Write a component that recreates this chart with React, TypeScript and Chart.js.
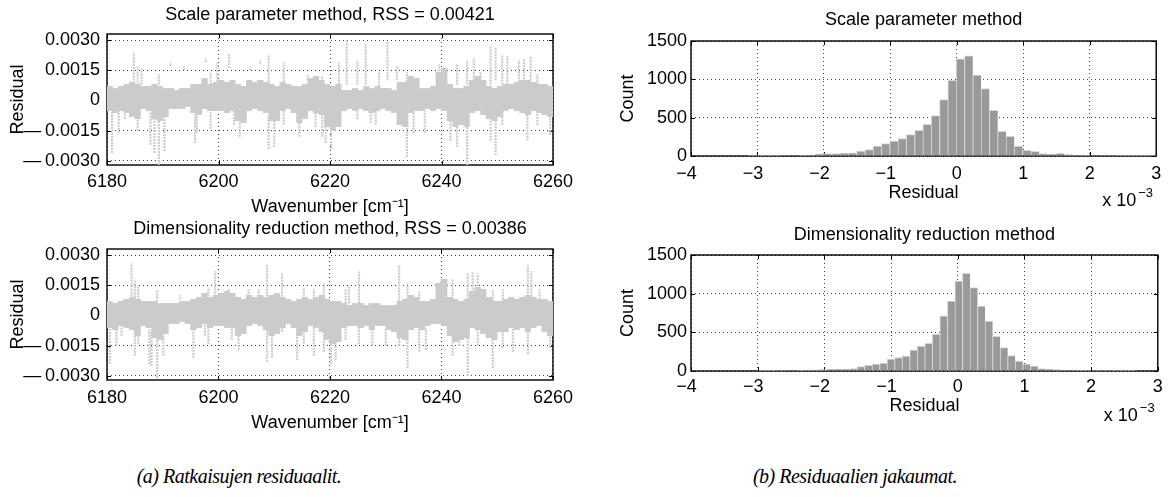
import React, { useEffect, useRef } from 'react';
import { Chart, registerables } from 'chart.js';
Chart.register(...registerables);

const FONT = "'Liberation Sans', Arial, Helvetica, sans-serif";

// ---------- Left panels: residuals vs wavenumber ----------
const RES_UNIT = 1e-4; // core/spike values below are given in units of 1e-4
const WN_BIN_CENTERS = [
  6180.5, 6181.5, 6182.5, 6183.5, 6184.5, 6185.5, 6186.5, 6187.5, 6188.5, 6189.5,
  6190.5, 6191.5, 6192.5, 6193.5, 6194.5, 6195.5, 6196.5, 6197.5, 6198.5, 6199.5,
  6200.5, 6201.5, 6202.5, 6203.5, 6204.5, 6205.5, 6206.5, 6207.5, 6208.5, 6209.5,
  6210.5, 6211.5, 6212.5, 6213.5, 6214.5, 6215.5, 6216.5, 6217.5, 6218.5, 6219.5,
  6220.5, 6221.5, 6222.5, 6223.5, 6224.5, 6225.5, 6226.5, 6227.5, 6228.5, 6229.5,
  6230.5, 6231.5, 6232.5, 6233.5, 6234.5, 6235.5, 6236.5, 6237.5, 6238.5, 6239.5,
  6240.5, 6241.5, 6242.5, 6243.5, 6244.5, 6245.5, 6246.5, 6247.5, 6248.5, 6249.5,
  6250.5, 6251.5, 6252.5, 6253.5, 6254.5, 6255.5, 6256.5, 6257.5, 6258.5, 6259.5,
];

const SCALE_CORE_HI = [
  7, 6, 7, 8, 9, 8, 7, 7, 8, 7,
  6, 6, 5, 6, 6, 8, 8, 11, 8, 9,
  10, 9, 10, 8, 7, 10, 9, 10, 9, 8,
  7, 9, 8, 7, 7, 8, 11, 12, 10, 8,
  7, 8, 5, 5, 6, 5, 7, 6, 7, 6,
  6, 5, 9, 9, 12, 11, 6, 6, 7, 14,
  16, 8, 6, 6, 7, 10, 12, 10, 7, 6,
  7, 8, 8, 9, 10, 10, 9, 8, 8, 7,
];
const SCALE_CORE_LO = [
  -5, -6, -5, -6, -8, -9, -4, -5, -9, -10,
  -8, -4, -4, -4, -3, -6, -7, -4, -5, -5,
  -5, -6, -5, -10, -11, -5, -4, -5, -6, -10,
  -10, -5, -4, -6, -11, -9, -5, -6, -7, -13,
  -15, -13, -5, -4, -5, -4, -5, -6, -5, -4,
  -5, -6, -12, -13, -6, -5, -5, -4, -5, -4,
  -5, -10, -13, -12, -13, -6, -5, -7, -9, -10,
  -8, -5, -4, -5, -6, -7, -5, -6, -7, -8,
];
const SCALE_SPIKE_WN = [
  6180.9, 6182.1, 6183.2, 6184.8, 6185.5, 6185.5, 6186.2, 6187.8, 6188.5, 6189.3,
  6189.3, 6190.3, 6191.4, 6193.8, 6195.8, 6196.1, 6197.7, 6198.6, 6198.6, 6199.8,
  6201.9, 6202.8, 6203.8, 6205.7, 6207.5, 6209.0, 6209.0, 6210.0, 6211.7, 6211.7,
  6214.5, 6216.0, 6217.4, 6218.6, 6218.6, 6219.2, 6220.2, 6221.6, 6223.0, 6224.9,
  6224.9, 6226.4, 6227.3, 6228.2, 6228.8, 6230.3, 6232.0, 6233.8, 6233.8, 6235.0,
  6237.0, 6239.6, 6241.6, 6242.8, 6242.8, 6244.6, 6244.6, 6245.8, 6247.0, 6248.8,
  6248.8, 6249.7, 6249.7, 6250.9, 6250.9, 6251.8, 6253.9, 6254.8, 6255.4, 6256.0,
  6257.2, 6257.2, 6259.5,
];
const SCALE_SPIKE_LO = [
  -26, -16, -9, 4, -15, 6, 8, -22, -26, -32,
  8, -25, 17, 15, -21, -16, 19, -14, 8, 8,
  16, -12, -18, 15, 18, 8, -24, -23, 8, -12,
  -18, 10, -13, -18, 8, -21, -24, 8, 8, 8,
  -9, 8, -11, -12, 7, 10, 10, -28, 9, -16,
  -16, 10, -20, -23, 8, -32, 8, 10, 10, 8,
  -20, 10, -27, 8, -12, 8, 9, 9, -20, 10,
  -12, 8, -17,
];
const SCALE_SPIKE_HI = [
  -4, -4, -3, 24, -5, 17, 16, -6, -8, -8,
  13, -6, 19, 17, -5, -5, 21, -5, 14, 19,
  23, -5, -6, 17, 20, 23, -8, -6, 19, -5,
  -7, 13, -5, -6, 12, -8, -10, 19, 30, 20,
  -4, 28, -5, -5, 14, 29, 17, -8, 14, -6,
  -5, 18, -8, -8, 18, -10, 20, 21, 14, 27,
  -6, 26, -8, 23, -5, 22, 20, 21, -7, 22,
  -6, 13, -6,
];

const DIM_CORE_HI = [
  7, 6, 7, 8, 9, 8, 7, 7, 7, 6,
  6, 6, 6, 7, 7, 8, 9, 11, 9, 10,
  11, 12, 11, 9, 8, 10, 9, 10, 9, 10,
  11, 9, 8, 7, 8, 9, 8, 9, 10, 8,
  7, 7, 6, 5, 6, 6, 5, 6, 6, 5,
  5, 5, 7, 8, 10, 9, 7, 7, 8, 16,
  18, 9, 8, 7, 8, 12, 14, 13, 9, 7,
  7, 8, 9, 8, 9, 10, 9, 8, 8, 7,
];
const DIM_CORE_LO = [
  -6, -7, -5, -6, -7, -10, -5, -6, -11, -12,
  -9, -4, -4, -3, -4, -7, -6, -4, -6, -5,
  -5, -6, -6, -10, -9, -5, -4, -5, -7, -10,
  -9, -6, -4, -6, -10, -8, -5, -6, -8, -12,
  -14, -13, -6, -5, -5, -6, -5, -7, -5, -5,
  -7, -8, -11, -12, -7, -6, -7, -5, -4, -4,
  -5, -10, -13, -12, -11, -6, -7, -9, -11, -12,
  -8, -8, -6, -7, -6, -8, -6, -5, -8, -10,
];
const DIM_SPIKE_WN = [
  6180.5, 6181.7, 6182.6, 6184.4, 6185.0, 6185.0, 6185.6, 6185.6, 6187.6, 6188.0,
  6189.0, 6189.0, 6190.1, 6193.1, 6195.5, 6197.6, 6198.2, 6198.2, 6199.4, 6201.8,
  6202.4, 6203.6, 6205.4, 6207.2, 6208.7, 6208.7, 6209.6, 6211.4, 6211.4, 6214.1,
  6215.3, 6215.3, 6217.1, 6217.1, 6218.9, 6218.9, 6220.2, 6221.0, 6222.8, 6222.8,
  6223.4, 6225.2, 6225.2, 6227.6, 6230.0, 6232.4, 6232.4, 6233.9, 6233.9, 6236.0,
  6236.0, 6237.2, 6239.9, 6242.0, 6242.0, 6243.2, 6244.7, 6244.7, 6245.6, 6246.5,
  6246.5, 6249.2, 6249.2, 6251.0, 6251.0, 6252.8, 6255.5, 6255.5, 6256.1, 6257.6,
  6259.5,
];
const DIM_SPIKE_LO = [
  -24, -15, -10, 8, 6, -20, 6, -14, -24, -25,
  -31, 7, -20, 8, -21, -10, -14, 8, 8, 9,
  -12, -17, 8, 8, 8, -23, -21, 8, -8, -22,
  8, -14, 8, -20, 8, -18, -24, -22, 6, -12,
  6, 6, -14, -15, -15, 7, -15, -26, 8, -18,
  8, -17, 10, -20, 8, -15, -30, 8, 10, 10,
  -15, -26, 7, -16, 8, -18, 8, -19, 8, 8,
  -16,
];
const DIM_SPIKE_HI = [
  -6, -5, -4, 26, 18, -6, 15, -5, -7, -8,
  -8, 13, -6, 10, -5, -4, -5, 14, 22, 13,
  -5, -6, 13, 13, 25, -7, -7, 21, -4, -7,
  14, -5, 13, -6, 16, -6, -8, -8, 13, -5,
  15, 22, -5, -6, -6, 25, -6, -8, 16, -6,
  12, -6, 18, -8, 18, -6, -8, 21, 22, 21,
  -6, -8, 13, -6, 13, -6, 25, -6, 22, 13,
  -6,
];

const WN_TICKS = [6180, 6200, 6220, 6240, 6260];
const WN_LABELS = ['6180', '6200', '6220', '6240', '6260'];
const RES_TICKS = [-0.003, -0.0015, 0, 0.0015, 0.003];
const RES_LABELS = ['\u2014\u20090.0030', '\u2014\u20090.0015', '0', '0.0015', '0.0030'];

// ---------- Right panels: histograms (residual in units of 1e-3) ----------
const HIST_SCALE_CENTERS = [
  -3.0725, -2.9475, -2.8225, -2.6975, -2.5725, -2.4475, -2.3225, -2.1975, -2.0725, -1.9475,
  -1.8225, -1.6975, -1.5725, -1.4475, -1.3225, -1.1975, -1.0725, -0.9475, -0.8225, -0.6975,
  -0.5725, -0.4475, -0.3225, -0.1975, -0.0725, 0.0525, 0.1775, 0.3025, 0.4275, 0.5525,
  0.6775, 0.8025, 0.9275, 1.0525, 1.1775, 1.3025, 1.4275, 1.5525, 1.6775, 1.8025,
  1.9275, 2.0525, 2.1775, 2.3025, 2.4275, 2.5525, 2.6775, 2.8025, 2.9275,
];
const HIST_SCALE_COUNTS = [
  2, 3, 3, 4, 5, 6, 8, 12, 22, 30,
  30, 38, 40, 65, 83, 130, 161, 196, 226, 278,
  335, 413, 526, 735, 987, 1266, 1305, 1057, 879, 596,
  322, 257, 130, 74, 61, 30, 26, 35, 17, 12,
  9, 7, 5, 5, 4, 3, 4, 3, 2,
];
const HIST_DIM_CENTERS = [
  -2.9235, -2.8105, -2.6975, -2.5845, -2.4715, -2.3585, -2.2455, -2.1325, -2.0195, -1.9065,
  -1.7935, -1.6805, -1.5675, -1.4545, -1.3415, -1.2285, -1.1155, -1.0025, -0.8895, -0.7765,
  -0.6635, -0.5505, -0.4375, -0.3245, -0.2115, -0.0985, 0.0145, 0.1275, 0.2405, 0.3535,
  0.4665, 0.5795, 0.6925, 0.8055, 0.9185, 1.0315, 1.1445, 1.2575, 1.3705, 1.4835,
  1.5965, 1.7095, 1.8225, 1.9355, 2.0485, 2.1615, 2.2745, 2.3875, 2.5005, 2.6135,
];
const HIST_DIM_COUNTS = [
  2, 3, 4, 4, 5, 8, 9, 13, 17, 26,
  26, 26, 30, 56, 73, 90, 103, 155, 172, 194,
  272, 323, 358, 474, 715, 905, 1164, 1263, 1078, 840,
  647, 448, 302, 198, 129, 90, 65, 30, 22, 17,
  13, 13, 9, 9, 5, 4, 4, 3, 2, 2,
];
const HIST_X_TICKS = [-4, -3, -2, -1, 0, 1, 2, 3];
const HIST_X_LABELS = ['\u22124\u2002', '\u22123\u2002', '\u22122\u2002', '\u22121\u2002', '0', '1', '2', '3'];
const HIST_Y_TICKS = [0, 500, 1000, 1500];
const HIST_Y_LABELS = ['0', '500', '1000', '1500'];

// ---------- styles ----------
const DOT_GREY = '#cbcbcb';
const BAR_GREY = '#999999';
const BAR_EDGE = '#d6d6d6';
const GRID_COLOR = 'rgba(0,0,0,0.75)';

const boxPlugin = {
  id: 'matlabBox',
  beforeDatasetsDraw(chart: any) {
    const { ctx, chartArea: a, scales } = chart;
    ctx.save();
    ctx.strokeStyle = '#000';
    ctx.lineWidth = 1.4;
    ctx.strokeRect(a.left, a.top, a.right - a.left, a.bottom - a.top);
    ctx.lineWidth = 1;
    const tl = 4;
    ctx.beginPath();
    scales.x.ticks.forEach((t: any) => {
      const px = Math.round(scales.x.getPixelForValue(t.value)) + 0.5;
      ctx.moveTo(px, a.bottom); ctx.lineTo(px, a.bottom - tl);
      ctx.moveTo(px, a.top); ctx.lineTo(px, a.top + tl);
    });
    scales.y.ticks.forEach((t: any) => {
      const py = Math.round(scales.y.getPixelForValue(t.value)) + 0.5;
      ctx.moveTo(a.left, py); ctx.lineTo(a.left + tl, py);
      ctx.moveTo(a.right, py); ctx.lineTo(a.right - tl, py);
    });
    ctx.stroke();
    ctx.restore();
  },
  afterDraw(chart: any, _args: any, opts: any) {
    if (!opts || !opts.exponent) return;
    const { ctx, chartArea: a } = chart;
    ctx.save();
    ctx.fillStyle = '#000';
    ctx.textBaseline = 'middle';
    ctx.font = `18px ${FONT}`;
    ctx.textAlign = 'right';
    const xr = a.right - 20;
    ctx.fillText('x 10', xr, a.bottom + 45);
    ctx.font = `13px ${FONT}`;
    ctx.textAlign = 'left';
    ctx.fillText(opts.exponent, xr + 2, a.bottom + 37);
    ctx.restore();
  },
};

function yScale(o: any) {
  return {
    type: 'linear',
    position: 'left',
    min: o.min,
    max: o.max,
    afterFit: (s: any) => { s.width = o.width; },
    afterBuildTicks: (s: any) => { s.ticks = o.ticks.map((v: number) => ({ value: v })); },
    ticks: {
      callback: (_v: any, i: number) => o.labels[i],
      padding: o.tickPad,
      autoSkip: false,
      color: '#000',
      font: { size: 18, family: FONT },
    },
    grid: { color: GRID_COLOR, lineWidth: 1, drawTicks: false, borderDash: [1, 3] },
    border: { display: false, dash: [1, 3] },
    title: {
      display: true,
      text: o.title,
      color: '#000',
      font: { size: 18, family: FONT },
      padding: { top: o.titlePad, bottom: 0 },
    },
  };
}

function xScale(o: any) {
  return {
    type: 'linear',
    position: 'bottom',
    min: o.min,
    max: o.max,
    offset: false,
    afterFit: (s: any) => { s.height = o.height; },
    afterBuildTicks: (s: any) => { s.ticks = o.ticks.map((v: number) => ({ value: v })); },
    ticks: {
      callback: (_v: any, i: number) => o.labels[i],
      padding: o.tickPad,
      autoSkip: false,
      maxRotation: 0,
      color: '#000',
      font: { size: 18, family: FONT },
    },
    grid: { color: GRID_COLOR, lineWidth: 1, drawTicks: false, offset: false, borderDash: [1, 3] },
    border: { display: false, dash: [1, 3] },
    title: {
      display: true,
      text: o.title,
      color: '#000',
      font: { size: 18, family: FONT },
      padding: { top: 0, bottom: o.titlePad },
    },
  };
}

function titleOpts(text: string, top: number, bottom: number) {
  return {
    display: true,
    text,
    color: '#000',
    fullSize: false,
    font: { size: 18, weight: 'normal', family: FONT, lineHeight: 1.2 },
    padding: { top, bottom },
  };
}

function residualConfig(p: any) {
  const core = WN_BIN_CENTERS.map((x, i) => ({ x, y: [p.lo[i] * RES_UNIT, p.hi[i] * RES_UNIT] }));
  const spikes: any[] = [];
  p.sWn.forEach((x: number, i: number) => {
    spikes.push({ x, y: p.sLo[i] * RES_UNIT }, { x, y: p.sHi[i] * RES_UNIT }, { x, y: null });
  });
  return {
    type: 'bar',
    data: {
      datasets: [
        {
          type: 'bar',
          data: core,
          backgroundColor: DOT_GREY,
          borderWidth: 0,
          barPercentage: 1,
          categoryPercentage: 1,
        },
        {
          type: 'line',
          data: spikes,
          borderColor: DOT_GREY,
          borderWidth: 2.2,
          borderDash: [2, 1],
          pointRadius: 0,
          spanGaps: false,
          tension: 0,
          fill: false,
        },
      ],
    },
    options: {
      responsive: false,
      animation: false,
      events: [],
      layout: { padding: { left: 0, right: p.padRight, top: 0, bottom: 0 } },
      plugins: {
        legend: { display: false },
        tooltip: { enabled: false },
        title: titleOpts(p.title, p.tTop, p.tBottom),
        matlabBox: {},
      },
      scales: {
        x: xScale({ min: 6180, max: 6260, ticks: WN_TICKS, labels: WN_LABELS, height: p.xHeight, tickPad: p.xTickPad, title: 'Wavenumber [cm\u207B\u00B9]', titlePad: p.xTitlePad }),
        y: yScale({ min: -0.0032, max: 0.0033, ticks: RES_TICKS, labels: RES_LABELS, width: 107, tickPad: 7, title: 'Residual', titlePad: 7.5 }),
      },
    },
    plugins: [boxPlugin],
  };
}

function histConfig(p: any) {
  return {
    type: 'bar',
    data: {
      datasets: [
        {
          type: 'bar',
          data: p.centers.map((x: number, i: number) => ({ x, y: p.counts[i] })),
          backgroundColor: BAR_GREY,
          borderColor: BAR_EDGE,
          borderWidth: { left: 1, right: 0, top: 1, bottom: 0 },
          borderSkipped: false,
          barPercentage: 1,
          categoryPercentage: 1,
        },
      ],
    },
    options: {
      responsive: false,
      animation: false,
      events: [],
      layout: { padding: { left: 0, right: 10, top: 0, bottom: 0 } },
      plugins: {
        legend: { display: false },
        tooltip: { enabled: false },
        title: titleOpts(p.title, p.tTop, p.tBottom),
        matlabBox: { exponent: '\u22123' },
      },
      scales: {
        x: xScale({ min: -4, max: 3, ticks: HIST_X_TICKS, labels: HIST_X_LABELS, height: p.xHeight, tickPad: p.xTickPad, title: 'Residual', titlePad: p.xTitlePad }),
        y: yScale({ min: 0, max: 1500, ticks: HIST_Y_TICKS, labels: HIST_Y_LABELS, width: 91, tickPad: 4, title: 'Count', titlePad: 17 }),
      },
    },
    plugins: [boxPlugin],
  };
}

const PANELS = [
  {
    left: 0, top: 0, width: 580, height: 225,
    make: () => residualConfig({
      hi: SCALE_CORE_HI, lo: SCALE_CORE_LO, sWn: SCALE_SPIKE_WN, sLo: SCALE_SPIKE_LO, sHi: SCALE_SPIKE_HI,
      title: 'Scale parameter method, RSS = 0.00421', tTop: 4.5, tBottom: 7.9,
      padRight: 27, xHeight: 60, xTickPad: 6, xTitlePad: 6.7,
    }),
  },
  {
    left: 0, top: 215, width: 580, height: 225,
    make: () => residualConfig({
      hi: DIM_CORE_HI, lo: DIM_CORE_LO, sWn: DIM_SPIKE_WN, sLo: DIM_SPIKE_LO, sHi: DIM_SPIKE_HI,
      title: 'Dimensionality reduction method, RSS = 0.00386', tTop: 3.7, tBottom: 8.7,
      padRight: 27, xHeight: 60, xTickPad: 7, xTitlePad: 5.7,
    }),
  },
  {
    left: 600, top: 0, width: 568, height: 215,
    make: () => histConfig({
      centers: HIST_SCALE_CENTERS, counts: HIST_SCALE_COUNTS,
      title: 'Scale parameter method', tTop: 9.5, tBottom: 9.9,
      xHeight: 59, xTickPad: 6.8, xTitlePad: 10.7,
    }),
  },
  {
    left: 600, top: 215, width: 568, height: 225,
    make: () => histConfig({
      centers: HIST_DIM_CENTERS, counts: HIST_DIM_COUNTS,
      title: 'Dimensionality reduction method', tTop: 9.7, tBottom: 8.7,
      xHeight: 69, xTickPad: 5.2, xTitlePad: 23.2,
    }),
  },
];

function ChartPanel({ panel }: { panel: any }) {
  const ref = useRef<HTMLCanvasElement | null>(null);
  useEffect(() => {
    if (!ref.current) return;
    const chart = new Chart(ref.current, panel.make() as any);
    return () => chart.destroy();
  }, [panel]);
  return (
    <canvas
      ref={ref}
      width={panel.width}
      height={panel.height}
      style={{ position: 'absolute', left: panel.left, top: panel.top, width: panel.width, height: panel.height }}
    />
  );
}

const CAPTIONS = [
  { text: '(a) Ratkaisujen residuaalit.', center: 239 },
  { text: '(b) Residuaalien jakaumat.', center: 855 },
];

export default function App() {
  return (
    <div style={{ position: 'absolute', left: 0, top: 0, width: 1168, height: 497, background: '#fff', overflow: 'hidden' }}>
      {PANELS.map((p, i) => <ChartPanel key={i} panel={p} />)}
      {CAPTIONS.map((c, i) => (
        <div
          key={i}
          style={{
            position: 'absolute', left: c.center - 200, width: 400, top: 463, height: 26,
            lineHeight: '26px', textAlign: 'center', fontFamily: "'Liberation Serif', 'Times New Roman', serif",
            fontStyle: 'italic', fontSize: 20, letterSpacing: '-0.5px', color: '#000',
          }}
        >
          {c.text}
        </div>
      ))}
    </div>
  );
}
